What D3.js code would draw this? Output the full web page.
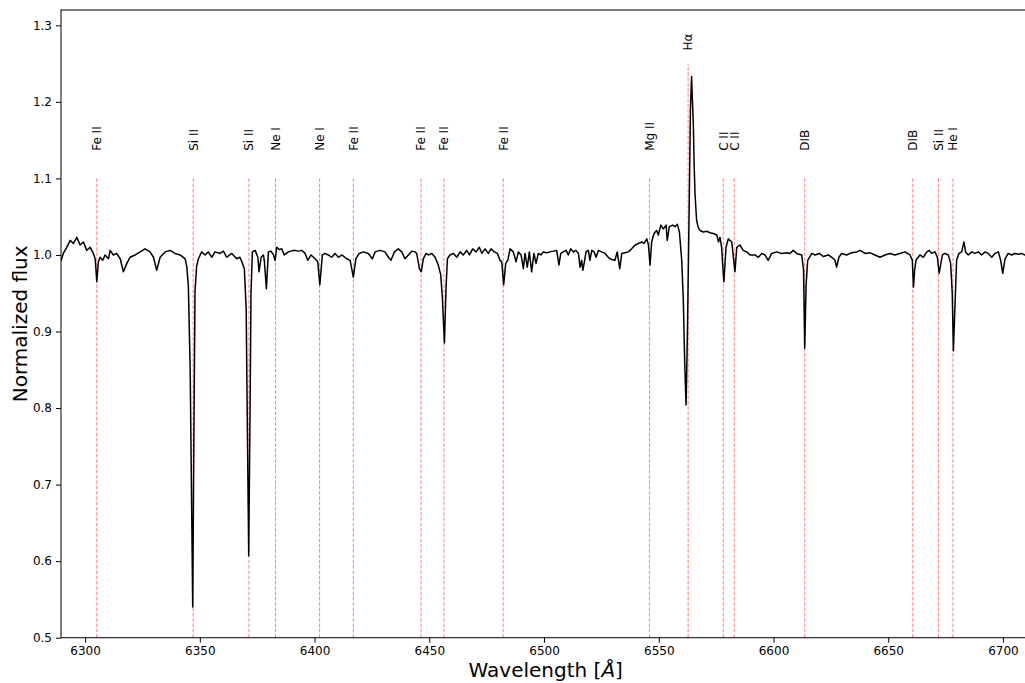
<html>
<head>
  <meta charset="utf-8">
  <style>
    body {
      margin: 0;
      background: #fff;
      font-family: "DejaVu Sans", Verdana, sans-serif;
    }
    .tick text {
      font-size: 12px;
      fill: #000;
    }
  </style>
</head>
<body>
<div id="chartContainer"></div>
<script src="https://cdn.jsdelivr.net/npm/d3@7"></script>
<script type="text/javascript">
// spectrum: wavelength [A] and normalized flux
var wavelength = [
  6289.5, 6290.5, 6292.0, 6293.5, 6294.9, 6296.4, 6297.8, 6299.3, 6300.7, 6302.2,
  6303.6, 6304.4, 6305.1, 6305.8, 6306.5, 6307.7, 6308.7, 6310.2, 6310.9, 6312.3,
  6313.8, 6315.3, 6316.7, 6318.2, 6319.6, 6321.8, 6324.0, 6326.1, 6328.3, 6329.8,
  6331.2, 6332.7, 6334.9, 6337.0, 6339.2, 6341.4, 6343.6, 6344.3, 6345.0, 6345.8,
  6346.9, 6347.5, 6347.9, 6348.6, 6349.4, 6350.8, 6352.3, 6353.7, 6355.2, 6356.6,
  6358.8, 6360.3, 6361.7, 6363.9, 6366.1, 6367.5, 6368.3, 6369.4, 6370.2, 6370.8,
  6371.3, 6371.9, 6372.3, 6372.9, 6374.1, 6375.3, 6375.8, 6376.7, 6377.7, 6378.1,
  6379.0, 6379.9, 6381.0, 6382.1, 6382.8, 6383.5, 6384.7, 6385.7, 6386.8, 6388.6,
  6390.8, 6392.9, 6394.4, 6395.9, 6397.0, 6398.5, 6400.2, 6401.4, 6402.3, 6403.4,
  6404.6, 6406.0, 6407.5, 6408.9, 6410.4, 6411.9, 6414.0, 6415.5, 6416.9, 6418.0,
  6419.4, 6421.3, 6423.4, 6425.2, 6426.4, 6428.5, 6430.7, 6432.2, 6433.3, 6434.8,
  6436.5, 6438.0, 6439.4, 6440.9, 6442.4, 6443.8, 6444.5, 6445.7, 6446.5, 6447.4,
  6448.6, 6449.6, 6451.1, 6452.5, 6453.9, 6455.0, 6455.7, 6456.6, 6457.3, 6457.9,
  6459.0, 6460.5, 6462.0, 6463.4, 6464.8, 6466.3, 6467.5, 6468.9, 6470.4, 6471.8,
  6472.9, 6474.3, 6475.7, 6476.9, 6478.3, 6479.7, 6480.8, 6481.6, 6482.4, 6483.3,
  6484.2, 6485.2, 6486.6, 6487.8, 6488.8, 6490.0, 6491.0, 6491.7, 6492.7, 6493.6,
  6494.6, 6495.6, 6496.5, 6497.5, 6498.6, 6499.7, 6501.2, 6502.6, 6504.1, 6505.5,
  6506.5, 6507.3, 6508.4, 6509.6, 6510.6, 6511.6, 6512.8, 6513.9, 6515.0, 6515.7,
  6516.4, 6516.9, 6517.6, 6518.3, 6519.3, 6520.0, 6520.8, 6521.8, 6522.7, 6523.7,
  6525.1, 6526.6, 6528.0, 6529.5, 6530.9, 6531.9, 6533.0, 6533.9, 6535.3, 6536.7,
  6538.2, 6539.7, 6541.1, 6542.6, 6543.6, 6544.8, 6545.5, 6546.2, 6546.9, 6547.9,
  6549.1, 6549.8, 6550.9, 6552.0, 6553.2, 6553.7, 6554.6, 6556.1, 6557.1, 6558.1,
  6559.0, 6559.3, 6560.0, 6560.7, 6561.3, 6561.9, 6562.5, 6563.2, 6563.8, 6564.3,
  6564.7, 6565.1, 6565.4, 6565.8, 6566.5, 6567.2, 6568.0, 6569.4, 6570.9, 6572.3,
  6573.8, 6575.3, 6576.0, 6576.7, 6577.4, 6577.9, 6578.4, 6578.9, 6579.3, 6580.3,
  6581.8, 6582.6, 6583.2, 6584.0, 6585.4, 6586.8, 6588.3, 6589.8, 6591.9, 6593.4,
  6594.9, 6596.3, 6597.7, 6599.2, 6601.4, 6603.6, 6605.8, 6607.2, 6608.6, 6610.1,
  6612.3, 6613.1, 6613.6, 6614.2, 6614.9, 6616.7, 6618.1, 6620.0, 6621.7, 6623.9,
  6625.4, 6626.8, 6627.5, 6628.5, 6629.7, 6631.9, 6634.1, 6636.3, 6637.7, 6639.9,
  6642.0, 6644.2, 6646.4, 6648.6, 6650.8, 6652.9, 6655.1, 6657.3, 6659.5, 6660.5,
  6661.0, 6661.5, 6662.1, 6663.8, 6665.3, 6666.8, 6667.9, 6668.9, 6670.4, 6671.4,
  6672.2, 6673.0, 6673.6, 6674.7, 6676.2, 6677.2, 6677.9, 6678.4, 6679.1, 6679.8,
  6680.8, 6682.0, 6683.0, 6683.7, 6684.9, 6686.4, 6687.8, 6689.2, 6690.7, 6692.2,
  6693.6, 6695.1, 6696.5, 6698.0, 6699.0, 6699.9, 6700.9, 6702.3, 6703.8, 6705.2,
  6706.7, 6708.1, 6709.6, 6712.0
];
var flux = [
  0.992, 1.002, 1.010, 1.019, 1.015, 1.023, 1.013, 1.017, 1.006, 1.010,
  1.002, 0.995, 0.965, 0.991, 0.997, 0.993, 1.000, 0.995, 1.006, 1.000,
  1.002, 0.995, 0.978, 0.989, 0.997, 1.000, 1.004, 1.008, 1.004, 0.997,
  0.980, 0.997, 1.004, 1.006, 1.002, 1.000, 0.995, 0.985, 0.960, 0.850,
  0.540, 0.800, 0.952, 0.985, 0.995, 1.004, 1.000, 1.004, 0.997, 1.004,
  1.002, 1.005, 0.997, 1.002, 0.995, 0.997, 0.991, 0.982, 0.930, 0.750,
  0.607, 0.800, 0.950, 1.004, 1.006, 0.997, 0.978, 0.997, 1.000, 0.993,
  0.956, 1.004, 1.005, 1.000, 0.993, 1.010, 1.007, 1.008, 1.000, 1.004,
  1.006, 1.005, 1.006, 1.002, 0.993, 1.000, 0.995, 0.991, 0.961, 1.000,
  1.002, 1.000, 0.997, 1.002, 0.997, 1.000, 0.995, 0.993, 0.971, 0.995,
  1.002, 1.004, 1.002, 0.995, 1.004, 1.006, 1.004, 0.997, 0.993, 1.004,
  1.008, 1.004, 0.995, 1.000, 1.005, 1.004, 1.002, 0.982, 0.978, 0.995,
  1.002, 1.000, 1.002, 0.997, 0.987, 0.974, 0.944, 0.885, 0.957, 0.995,
  1.000, 1.002, 0.997, 1.004, 1.000, 1.006, 1.000, 1.008, 1.004, 1.010,
  1.002, 1.008, 1.002, 1.008, 1.004, 1.002, 0.993, 0.991, 0.961, 0.989,
  0.993, 1.008, 1.004, 0.991, 1.004, 1.000, 0.982, 1.002, 0.984, 1.004,
  0.978, 1.002, 0.989, 1.002, 1.000, 1.004, 1.003, 1.004, 1.005, 1.006,
  0.987, 1.002, 1.004, 1.006, 1.000, 1.008, 1.004, 1.006, 1.002, 0.984,
  0.993, 0.980, 0.991, 1.004, 1.006, 0.993, 1.006, 1.004, 0.997, 1.006,
  1.004, 1.002, 0.997, 0.994, 0.993, 1.004, 0.982, 1.002, 1.003, 1.004,
  1.008, 1.013, 1.015, 1.017, 1.015, 1.021, 1.013, 0.987, 1.017, 1.028,
  1.032, 1.026, 1.039, 1.034, 1.039, 1.019, 1.037, 1.039, 1.037, 1.040,
  1.030, 1.019, 0.993, 0.941, 0.860, 0.804, 0.900, 1.050, 1.190, 1.233,
  1.200, 1.167, 1.120, 1.080, 1.045, 1.036, 1.032, 1.030, 1.031, 1.029,
  1.028, 1.026, 1.017, 1.023, 1.010, 0.985, 0.965, 0.990, 1.010, 1.021,
  1.017, 0.995, 0.978, 1.010, 1.013, 1.006, 1.004, 1.000, 1.000, 0.997,
  1.002, 1.000, 0.993, 1.002, 1.004, 1.002, 1.003, 1.002, 1.006, 1.002,
  1.000, 0.980, 0.878, 0.960, 0.993, 1.002, 1.000, 1.002, 0.998, 1.000,
  0.997, 0.993, 0.984, 0.997, 1.002, 1.000, 1.003, 1.004, 1.006, 1.002,
  1.003, 1.000, 0.997, 1.000, 1.002, 1.000, 1.002, 1.004, 1.000, 0.993,
  0.958, 0.980, 0.993, 1.000, 0.997, 1.004, 1.006, 1.002, 1.004, 0.997,
  0.976, 0.990, 1.000, 1.002, 1.000, 0.989, 0.950, 0.875, 0.935, 0.993,
  1.002, 1.004, 1.017, 1.004, 1.000, 1.004, 1.002, 1.004, 1.000, 1.004,
  1.002, 0.997, 1.002, 1.004, 0.993, 0.976, 0.995, 1.002, 1.000, 1.002,
  1.001, 1.002, 1.000, 1.001
];

// line identifications
var lineWave  = [6305.1, 6347.1, 6371.4, 6383.0, 6402.2, 6416.9, 6446.4, 6456.4, 6482.2,
                 6546.0, 6562.8, 6578.1, 6582.9, 6613.6, 6660.7, 6671.9, 6678.2];
var lineName  = ["Fe II", "Si II", "Si II", "Ne I", "Ne I", "Fe II", "Fe II", "Fe II", "Fe II",
                 "Mg II", "H\u03b1", "C II", "C II", "DIB", "DIB", "Si II", "He I"];
var lineTop   = [1.1, 1.1, 1.1, 1.1, 1.1, 1.1, 1.1, 1.1, 1.1,
                 1.1, 1.25, 1.1, 1.1, 1.1, 1.1, 1.1, 1.1];
var labelFlux = [1.136, 1.136, 1.136, 1.136, 1.136, 1.136, 1.136, 1.136, 1.136,
                 1.136, 1.267, 1.136, 1.136, 1.136, 1.136, 1.136, 1.136];

var xTicks = [6300, 6350, 6400, 6450, 6500, 6550, 6600, 6650, 6700];
var yTicks = [0.5, 0.6, 0.7, 0.8, 0.9, 1.0, 1.1, 1.2, 1.3];

var W = 1025, H = 683;
var plotL = 61, plotR = 1030.5, plotT = 10, plotB = 637.7;

var svg = d3.select("#chartContainer").append("svg")
  .attr("width", W)
  .attr("height", H);

var x = d3.scaleLinear().domain([6289.5, 6712]).range([plotL, plotR]);
var y = d3.scaleLinear().domain([0.5, 1.32]).range([plotB, plotT]);

// dashed identification lines
svg.selectAll("line.ident")
  .data(lineWave)
  .enter()
  .append("line")
    .attr("class", "ident")
    .attr("x1", function (d) { return x(d); })
    .attr("x2", function (d) { return x(d); })
    .attr("y1", y(0.5))
    .attr("y2", function (d, i) { return y(lineTop[i]); })
    .attr("stroke", "#ff0000")
    .attr("stroke-opacity", 0.5)
    .attr("stroke-width", 1)
    .attr("stroke-dasharray", "3.7,1.6");

// the spectrum
var pts = wavelength.map(function (w, i) { return [w, flux[i]]; });
svg.append("defs").append("clipPath").attr("id", "plotclip")
  .append("rect")
    .attr("x", plotL).attr("y", plotT)
    .attr("width", plotR - plotL).attr("height", plotB - plotT);

svg.append("path")
  .datum(pts)
  .attr("clip-path", "url(#plotclip)")
  .attr("fill", "none")
  .attr("stroke", "#000")
  .attr("stroke-width", 1.5)
  .attr("stroke-linejoin", "round")
  .attr("d", d3.line()
    .x(function (d) { return x(d[0]); })
    .y(function (d) { return y(d[1]); }));

// line labels, rotated
svg.selectAll("text.ident")
  .data(lineWave)
  .enter()
  .append("text")
    .attr("class", "ident")
    .attr("transform", function (d, i) {
      return "translate(" + x(d) + "," + y(labelFlux[i]) + ") rotate(-90)";
    })
    .attr("dy", "0.36em")
    .style("font-size", "12px")
    .style("fill", "#000")
    .text(function (d, i) { return lineName[i]; });

// axes
var xAxis = d3.axisBottom(x).tickValues(xTicks).tickFormat(d3.format("d"))
  .tickSize(5).tickPadding(4);
var yAxis = d3.axisLeft(y).tickValues(yTicks).tickFormat(d3.format(".1f"))
  .tickSize(5).tickPadding(4);

var gx = svg.append("g").attr("transform", "translate(0," + plotB + ")").call(xAxis);
var gy = svg.append("g").attr("transform", "translate(" + plotL + ",0)").call(yAxis);
[gx, gy].forEach(function (g) {
  g.select(".domain").remove();
  g.selectAll(".tick line").attr("stroke", "#000").attr("stroke-width", 1);
  g.selectAll(".tick text").style("font-family", "DejaVu Sans");
});

// spines
svg.append("rect")
  .attr("x", plotL).attr("y", plotT)
  .attr("width", plotR - plotL).attr("height", plotB - plotT)
  .attr("fill", "none")
  .attr("stroke", "#000")
  .attr("stroke-width", 1);

// axis titles
svg.append("text")
  .attr("x", (plotL + plotR) / 2)
  .attr("y", 677)
  .attr("text-anchor", "middle")
  .style("font-size", "20px")
  .html("Wavelength [<tspan font-style=\"italic\">\u00c5</tspan>]");

svg.append("text")
  .attr("transform", "translate(27," + (plotT + plotB) / 2 + ") rotate(-90)")
  .attr("text-anchor", "middle")
  .style("font-size", "20px")
  .text("Normalized flux");
</script>
</body>
</html>
